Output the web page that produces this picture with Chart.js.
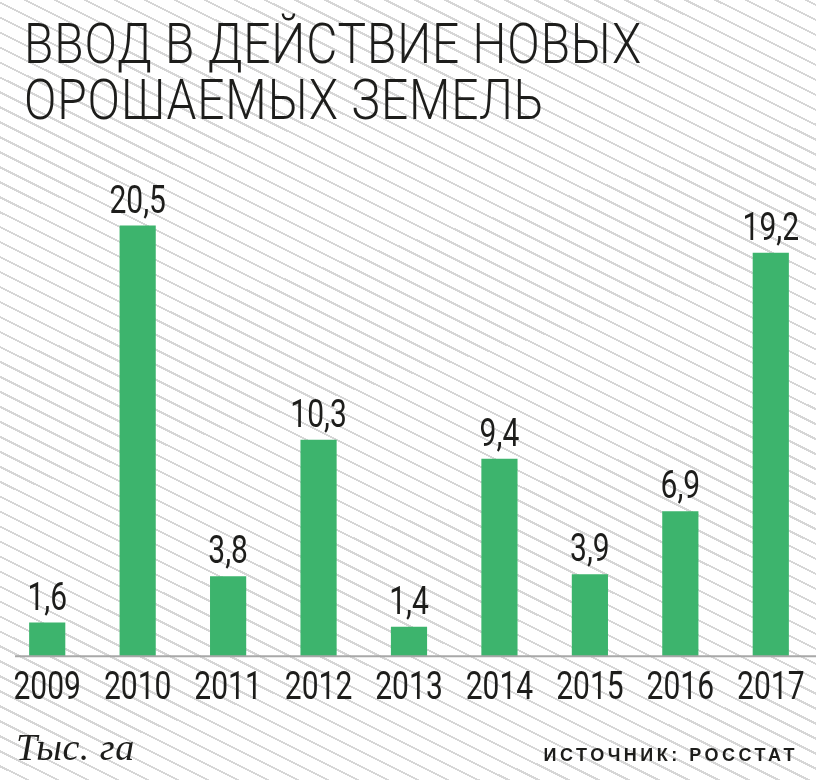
<!DOCTYPE html>
<html lang="ru">
<head>
<meta charset="utf-8">
<script src="https://cdn.jsdelivr.net/npm/chart.js@4.4.1/dist/chart.umd.min.js"></script>
<style>
    html, body { margin: 0; padding: 0; }
    body {
        width: 816px;
        height: 780px;
        overflow: hidden;
        position: relative;
        background-color: #fff;
        background-image: repeating-linear-gradient(
            26.5deg,
            #fff 0px, #fff 11.4px,
            #d6d6d6 11.4px, #d6d6d6 13.4px
        );
        color: #1d1d1b;
    }
    #title {
        position: absolute;
        left: 24px;
        top: 16px;
        margin: 0;
        font-family: "Roboto", sans-serif;
        font-weight: 300;
        font-size: 55px;
        line-height: 56px;
        letter-spacing: 1px;
        transform-origin: 0 0;
        transform: scaleX(0.87);
        white-space: nowrap;
    }
    #unit {
        position: absolute;
        left: 16px;
        top: 725px;
        font-family: "Liberation Serif", serif;
        font-style: italic;
        font-size: 38px;
        letter-spacing: 0.5px;
    }
    #source {
        position: absolute;
        right: 18px;
        top: 745px;
        font-family: "Liberation Sans", sans-serif;
        font-weight: bold;
        font-size: 18px;
        letter-spacing: 3.5px;
    }
    #wrap { position: absolute; left: 0; top: 0; width: 816px; height: 780px; }
</style>
</head>
<body>
<div id="wrap"><canvas id="chart" width="816" height="780"></canvas></div>
<h1 id="title">ВВОД В ДЕЙСТВИЕ НОВЫХ<br>ОРОШАЕМЫХ ЗЕМЕЛЬ</h1>
<div id="unit">Тыс. га</div>
<div id="source">ИСТОЧНИК: РОССТАТ</div>

<script>
// ============================================================
//  Data
// ============================================================

const years  = ["2009", "2010", "2011", "2012", "2013", "2014", "2015", "2016", "2017"];
const values = [1.6, 20.5, 3.8, 10.3, 1.4, 9.4, 3.9, 6.9, 19.2];

const BAR_COLOR  = "#3db46d";
const TEXT_COLOR = "#1d1d1b";
const NUM_FONT   = "Roboto, sans-serif";
const NARROW     = 0.77;   // horizontal squeeze, no condensed face installed

// ============================================================
//  Category axis that draws its labels condensed
// ============================================================

class NarrowCategory extends Chart.CategoryScale {
    drawLabels(chartArea) {
        if (!this.options.ticks.display) return;
        const ctx = this.ctx;
        for (const item of this.getLabelItems(chartArea)) {
            const o = item.options;
            ctx.save();
            ctx.translate(o.translation[0], o.translation[1]);
            ctx.scale(NARROW, 1);
            ctx.font = item.font.string;
            ctx.fillStyle = o.color;
            ctx.textAlign = o.textAlign;
            ctx.textBaseline = o.textBaseline;
            ctx.fillText(item.label, 0, item.textOffset);
            ctx.restore();
        }
    }
}
NarrowCategory.id = "narrowCategory";
NarrowCategory.defaults = Chart.CategoryScale.defaults;
Chart.register(NarrowCategory);

// value labels above bars, Russian decimal comma
const valueLabels = {
    id: "valueLabels",
    afterDatasetsDraw(chart) {
        const ctx = chart.ctx;
        const meta = chart.getDatasetMeta(0);
        meta.data.forEach((bar, i) => {
            const txt = values[i].toFixed(1).replace(".", ",");
            ctx.save();
            ctx.translate(bar.x, bar.y - 13);
            ctx.scale(NARROW, 1);
            ctx.fillStyle = TEXT_COLOR;
            ctx.font = "39px " + NUM_FONT;
            ctx.textAlign = "center";
            ctx.textBaseline = "alphabetic";
            ctx.fillText(txt, 0, 0);
            ctx.restore();
        });
    },
};

// grey baseline under the bars
const baseline = {
    id: "baseline",
    afterDatasetsDraw(chart) {
        const ctx = chart.ctx;
        const y = chart.scales.y.getPixelForValue(0);
        ctx.save();
        ctx.strokeStyle = "#a8a8a8";
        ctx.lineWidth = 2;
        ctx.beginPath();
        ctx.moveTo(15, y);
        ctx.lineTo(chart.width, y);
        ctx.stroke();
        ctx.restore();
    },
};

new Chart(document.getElementById("chart"), {
    type: "bar",
    data: {
        labels: years,
        datasets: [{
            data: values,
            backgroundColor: BAR_COLOR,
            borderWidth: 0,
            barPercentage: 0.4,
            categoryPercentage: 1.0,
        }],
    },
    options: {
        responsive: false,
        animation: false,
        devicePixelRatio: 1,
        layout: { padding: { left: 2, right: 0, top: 152, bottom: 57 } },
        plugins: {
            legend: { display: false },
            tooltip: { enabled: false },
        },
        scales: {
            x: {
                type: "narrowCategory",
                grid: { display: false, drawTicks: false },
                border: { display: false },
                ticks: {
                    color: TEXT_COLOR,
                    padding: 10,
                    font: { family: NUM_FONT, size: 39 },
                    maxRotation: 0,
                    autoSkip: false,
                },
                afterFit(scale) {
                    // labels are drawn narrower than measured, no side padding needed
                    scale.paddingLeft = 0;
                    scale.paddingRight = 0;
                },
            },
            y: {
                display: false,
                min: 0,
                max: 24,
            },
        },
    },
    plugins: [baseline, valueLabels],
});
</script>
</body>
</html>
